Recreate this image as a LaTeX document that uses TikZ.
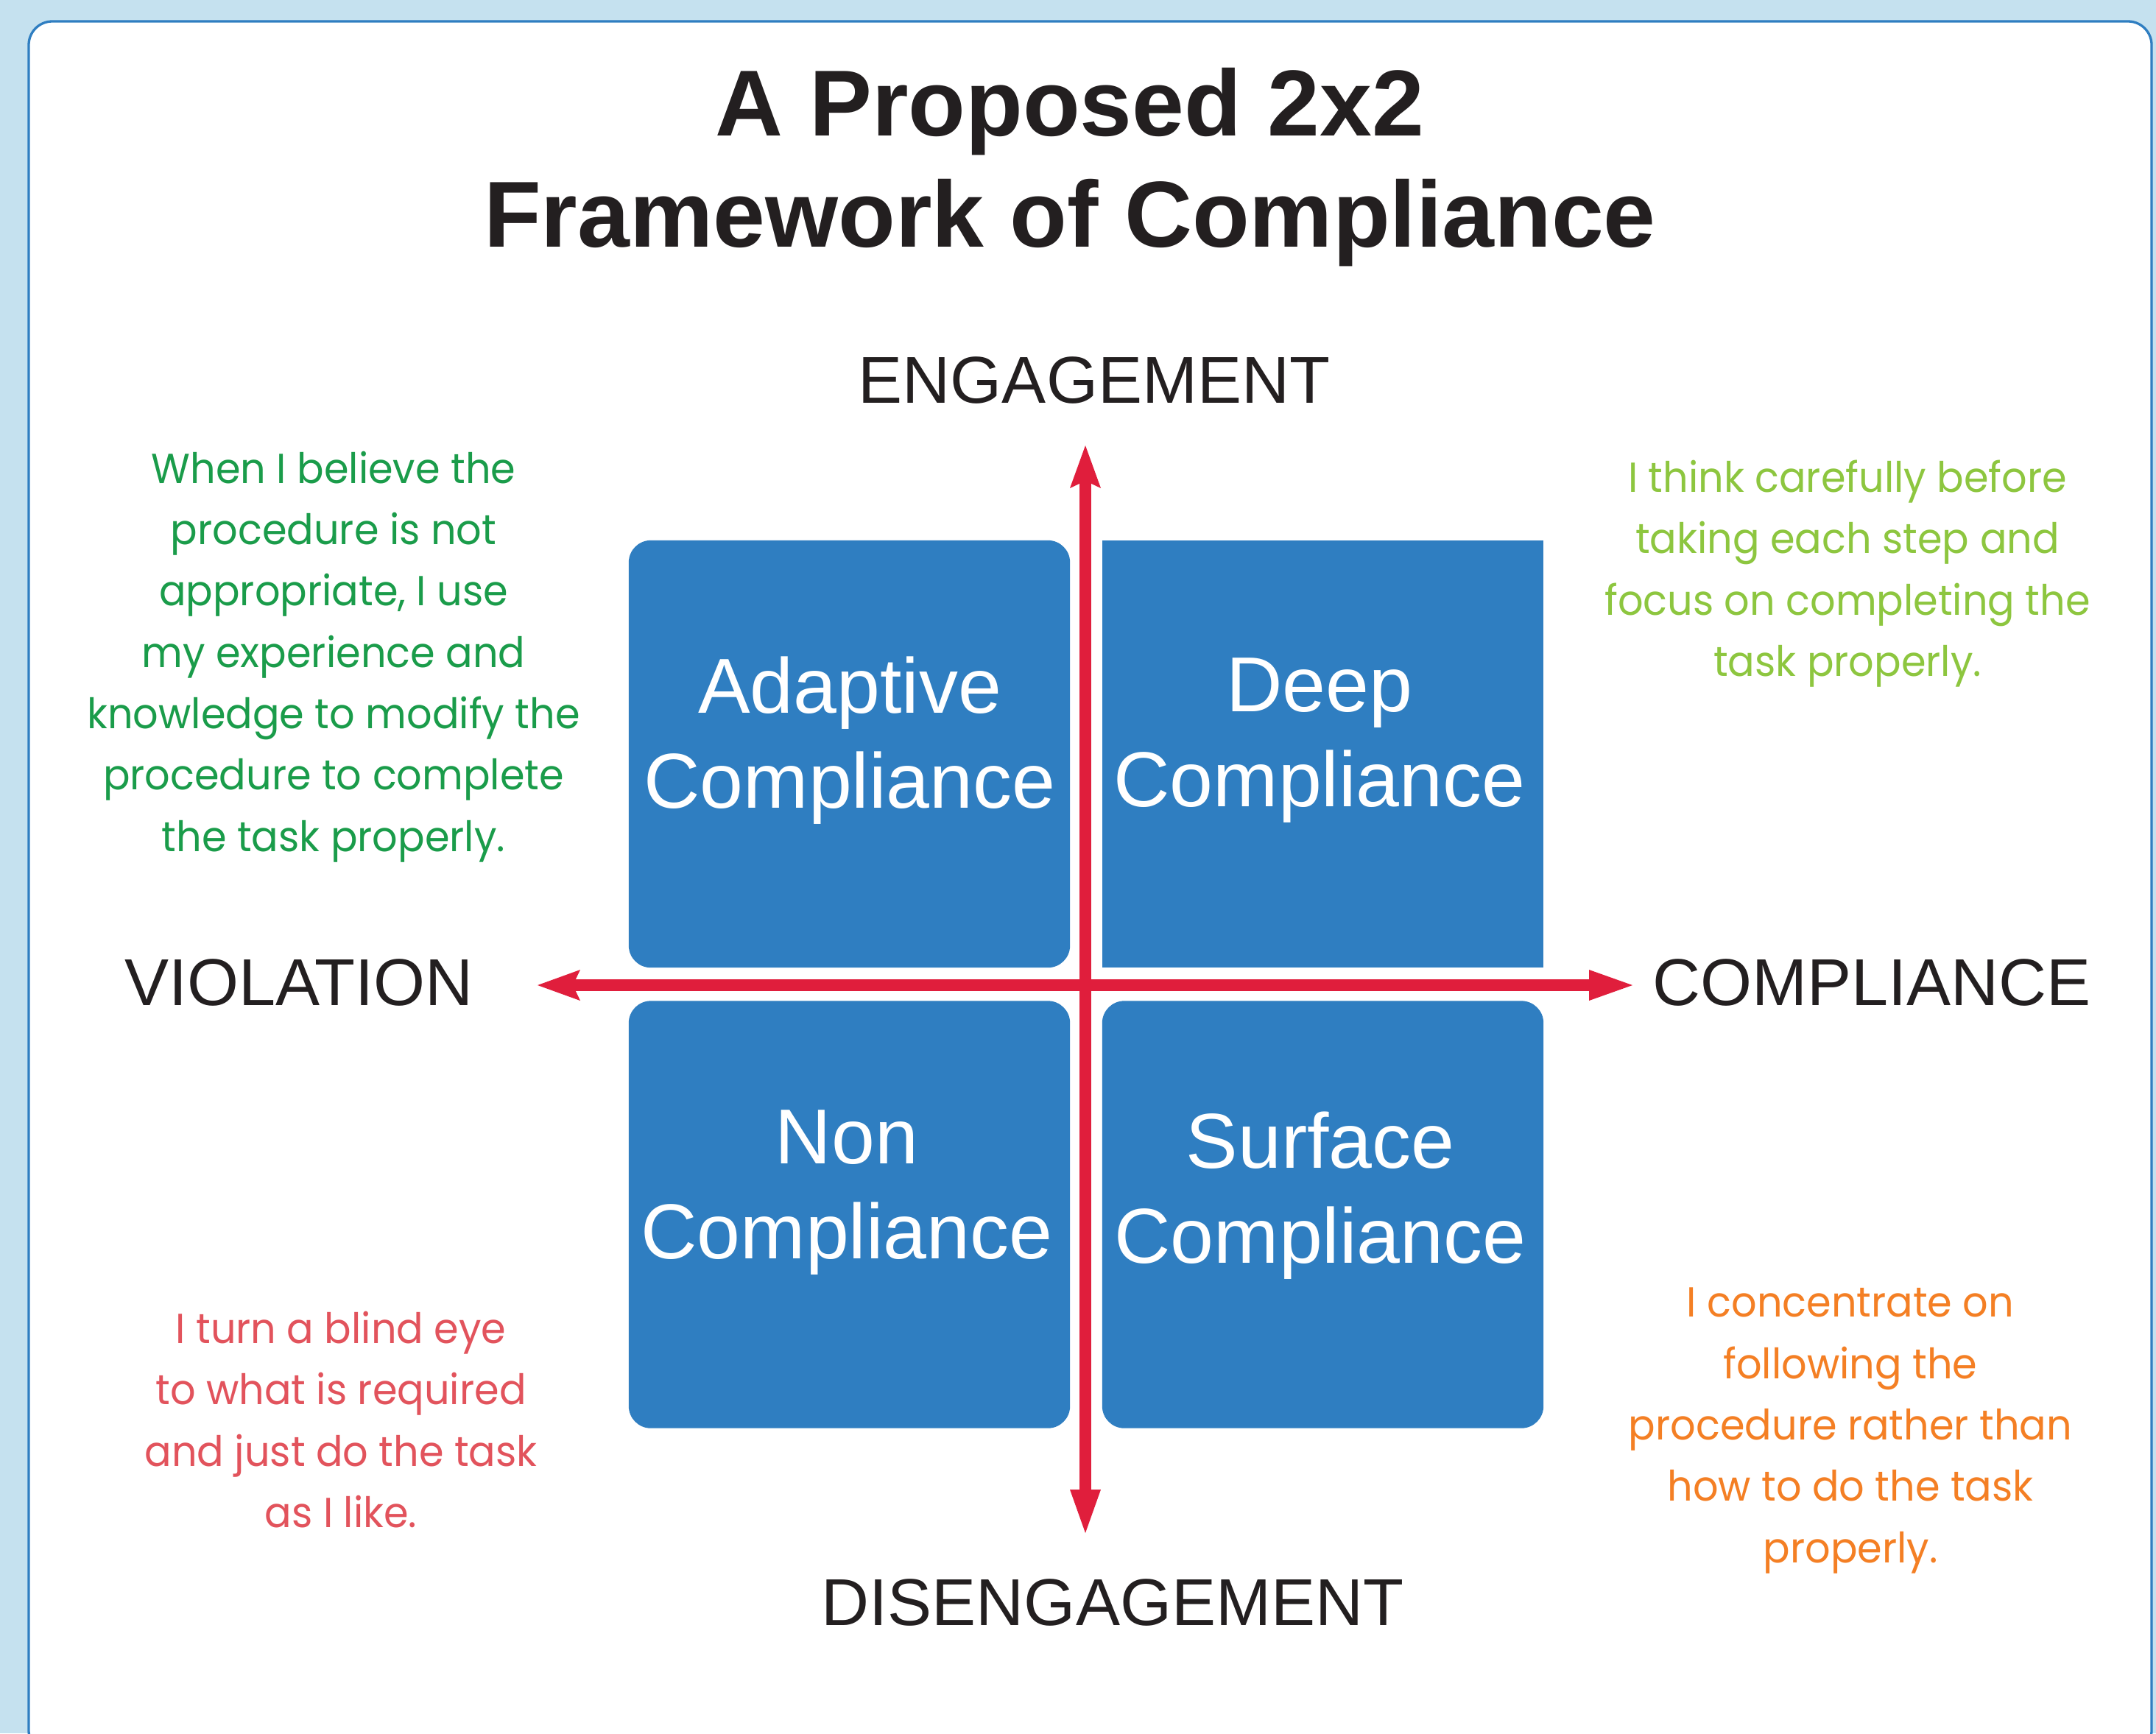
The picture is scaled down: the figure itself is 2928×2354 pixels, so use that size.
\documentclass[tikz,border=0pt]{standalone}
\usepackage{fontspec}
\setmainfont{Liberation Sans}
\newfontfamily\gothic[FakeStretch=0.95]{Poppins}
\usetikzlibrary{arrows.meta}

\definecolor{PanelBlue}{RGB}{47,126,193}
\definecolor{SkyBlue}{RGB}{197,225,239}
\definecolor{AxisRed}{RGB}{224,30,60}
\definecolor{LeafGreen}{RGB}{26,156,74}
\definecolor{LimeGreen}{RGB}{141,198,63}
\definecolor{Coral}{RGB}{226,83,92}
\definecolor{Tangerine}{RGB}{244,127,36}
\definecolor{Ink}{RGB}{35,31,32}

\tikzset{
    sweptTip/.tip={Stealth[length=0.58cm, width=0.42cm, inset=0.1cm, line width=0pt]},
    flatTip/.tip={Triangle[length=0.59cm, width=0.42cm, line width=0pt]}
}

\begin{document}
\begin{tikzpicture}[x=0.01cm, y=-0.01cm,
    quad/.style={fill=PanelBlue, minimum width=5.99cm, minimum height=5.8cm, rounded corners=0.3cm, inner sep=0pt},
    quadtext/.style={white, align=center, font=\fontsize{30.1}{36.7}\selectfont},
    axislabel/.style={Ink, anchor=base, font=\fontsize{25.6}{30}\selectfont},
    remark/.style={align=center, font=\gothic\fontsize{16.2}{23.7}\selectfont},
    axis/.style={AxisRed, line width=0.16cm}]
    \useasboundingbox (0,0) rectangle (2928,2354);
    \clip (0,0) rectangle (2928,2354);
    \fill[SkyBlue] (0,0) rectangle (2928,2354);
    \draw[PanelBlue, fill=white, line width=0.033cm, rounded corners=0.32cm] (39,29) rectangle (2922,2382);

    \node (badge) at (167,142)[circle, fill=PanelBlue, minimum size=1.56cm, inner sep=0pt, white, font=\fontsize{28.5}{30}\selectfont\bfseries] {3};
    \node (title) at (1453,227)[Ink, align=center, font=\fontsize{36.2}{43}\selectfont\bfseries] {A Proposed 2x2\\Framework of Compliance};

    \node (adaptive) at (1153.5,1024)[quad] {};
    \node (deep) at (1796.5,1024)[quad, sharp corners] {};
    \node (non) at (1153.5,1649.5)[quad] {};
    \node (surface) at (1796.5,1649.5)[quad] {};

    \node (adaptive-text) at (1154,1006)[quadtext] {Adaptive\\Compliance};
    \node (deep-text) at (1792,1006)[quadtext] {Deep\\Compliance};
    \node (non-text) at (1150,1620)[quadtext] {Non\\Compliance};
    \node (surface-text) at (1793,1624)[quadtext] {Surface\\Compliance};

    \coordinate (up) at (1474,605);
    \coordinate (down) at (1474,2082);
    \coordinate (west) at (730,1338);
    \coordinate (east) at (2217,1338);
    \draw[axis, flatTip-sweptTip] (down) -- (up);
    \draw[axis, sweptTip-flatTip] (west) -- (east);

    \node (engagement) at (1486,547)[axislabel] {ENGAGEMENT};
    \node (violation) at (406,1365)[axislabel] {VIOLATION};
    \node (compliance) at (2542,1365)[axislabel] {COMPLIANCE};
    \node (disengagement) at (1511,2207)[axislabel] {DISENGAGEMENT};

    \node (adaptive-note) at (453,892)[remark, LeafGreen] {When I believe the\\procedure is not\\appropriate, I use\\my experience and\\knowledge to modify the\\procedure to complete\\the task properly.};
    \node (deep-note) at (2509,779)[remark, LimeGreen] {I think carefully before\\taking each step and\\focus on completing the\\task properly.};
    \node (non-note) at (463,1928)[remark, Coral] {I turn a blind eye\\to what is required\\and just do the task\\as I like.};
    \node (surface-note) at (2513,1943)[remark, Tangerine] {I concentrate on\\following the\\procedure rather than\\how to do the task\\properly.};
\end{tikzpicture}
\end{document}
